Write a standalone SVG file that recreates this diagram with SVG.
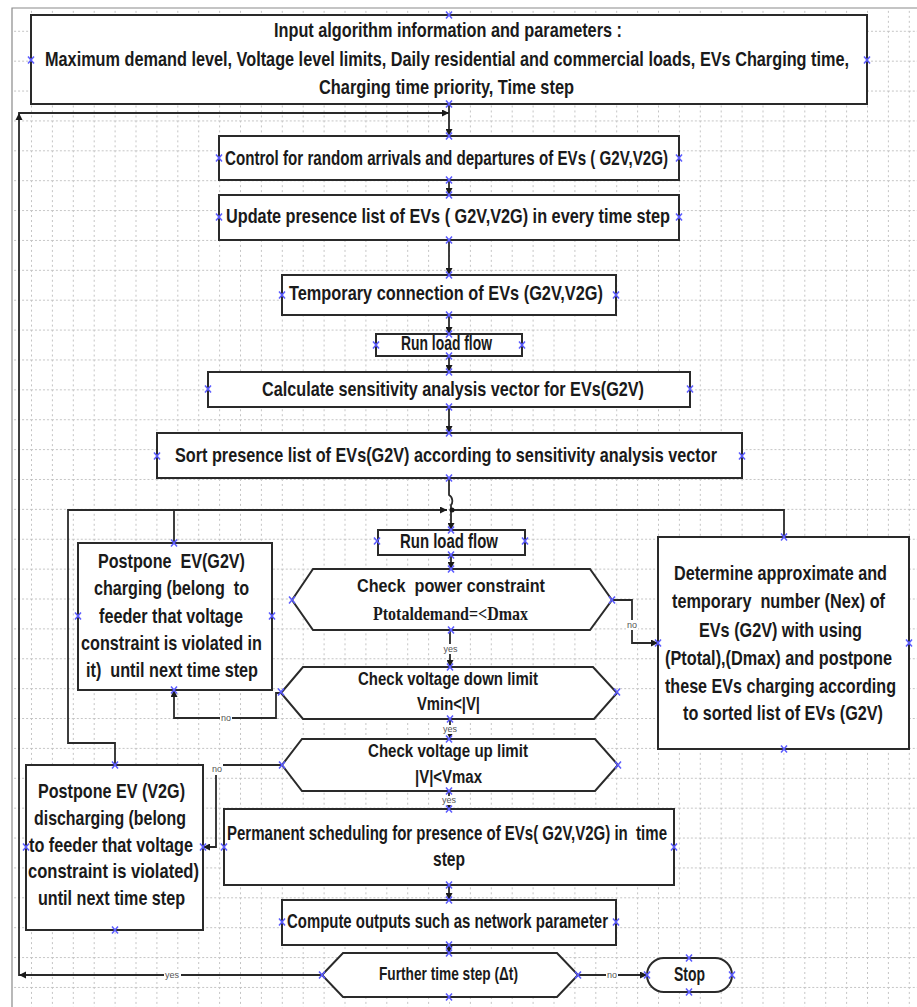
<svg xmlns="http://www.w3.org/2000/svg" width="917" height="1007" viewBox="0 0 917 1007">
<style>
.box{fill:#fff;stroke:#2a2a2a;stroke-width:2}
.t{font-family:"Liberation Sans",Arial,sans-serif;font-weight:bold;font-size:20px;fill:#1a1a1a;white-space:pre}
.h{font-size:18.5px}
.s{font-family:"Liberation Serif","Times New Roman",serif;font-weight:bold;font-size:18px;fill:#1a1a1a}
.c{fill:none;stroke:#2a2a2a;stroke-width:1.8}
.lbl{font-family:"Liberation Sans",Arial,sans-serif;font-size:9px;fill:#555}
.bg{fill:#fff}
</style>
<defs>
<pattern id="grid" patternUnits="userSpaceOnUse" x="31" y="0.9" width="20.9" height="29.88">
<line x1="0.5" y1="0" x2="0.5" y2="29.88" stroke="#c4c4c4" stroke-width="1" stroke-dasharray="2 3"/>
<line x1="0" y1="0.5" x2="20.9" y2="0.5" stroke="#c4c4c4" stroke-width="1" stroke-dasharray="2 2"/>
</pattern>
<marker id="ar" viewBox="0 0 10 10" refX="10" refY="5" markerWidth="7" markerHeight="7" markerUnits="userSpaceOnUse" orient="auto">
<path d="M0,0 L10,5 L0,10 z" fill="#1a1a1a"/>
</marker>
<path id="x" d="M-3,-3.5 L3,3.5 M3,-3.5 L-3,3.5" stroke="#5b5bff" stroke-width="1.5" fill="none"/>
</defs>

<rect x="12" y="8" width="905" height="999" fill="#fff"/>
<rect x="12" y="8" width="905" height="999" fill="url(#grid)"/>
<path d="M12,1007 V8 H917" fill="none" stroke="#8a8a8a" stroke-width="1.2"/>

<g id="connectors">
<path class="c" d="M449,104 V136" marker-end="url(#ar)"/>
<path class="c" d="M322,975 H19 V113 H449" marker-end="url(#ar)"/>
<polygon points="19,975 26,971.5 26,978.5" fill="#1a1a1a"/>
<polygon points="19,113 15.5,120 22.5,120" fill="#1a1a1a"/>
<path class="c" d="M449,180 V195" marker-end="url(#ar)"/>
<path class="c" d="M449,240 V275" marker-end="url(#ar)"/>
<path class="c" d="M449,315 V334" marker-end="url(#ar)"/>
<path class="c" d="M449,356 V372" marker-end="url(#ar)"/>
<path class="c" d="M449,407 V433" marker-end="url(#ar)"/>
<path class="c" d="M449,478 V495 C453,497 453,503 451,505 V530" marker-end="url(#ar)"/>
<path class="c" d="M115,765 V743 H68 V510 H447" marker-end="url(#ar)"/>
<path class="c" d="M174,543 V510"/>
<path class="c" d="M784,537 V510 H452"/>
<circle cx="452" cy="510" r="2.5" fill="#1a1a1a"/>
<path class="c" d="M451,555 V569" marker-end="url(#ar)"/>
<path class="c" d="M450,630 V667" marker-end="url(#ar)"/>
<path class="c" d="M612,600 H632 V643 H658" marker-end="url(#ar)"/>
<path class="c" d="M281,693 H276 V718 H174 V690" marker-end="url(#ar)"/>
<path class="c" d="M450,719 V739" marker-end="url(#ar)"/>
<path class="c" d="M282,765 H216 V847 H203" marker-end="url(#ar)"/>
<path class="c" d="M449,791 V809" marker-end="url(#ar)"/>
<path class="c" d="M449,885 V900" marker-end="url(#ar)"/>
<path class="c" d="M449,945 V953" marker-end="url(#ar)"/>
<path class="c" d="M578,975 H647" marker-end="url(#ar)"/>
<rect class="bg" x="443" y="644" width="15" height="10"/>
<text class="lbl" x="450.5" y="652" text-anchor="middle">yes</text>
<rect class="bg" x="626" y="620" width="12" height="10"/>
<text class="lbl" x="632" y="628" text-anchor="middle">no</text>
<rect class="bg" x="220" y="713" width="12" height="10"/>
<text class="lbl" x="226" y="721" text-anchor="middle">no</text>
<rect class="bg" x="442" y="725" width="15" height="9"/>
<text class="lbl" x="450" y="732" text-anchor="middle">yes</text>
<rect class="bg" x="210" y="764" width="13" height="11"/>
<text class="lbl" x="217" y="772" text-anchor="middle">no</text>
<rect class="bg" x="442" y="796" width="15" height="9"/>
<text class="lbl" x="449" y="803" text-anchor="middle">yes</text>
<rect class="bg" x="606" y="970" width="12" height="10"/>
<text class="lbl" x="612" y="978" text-anchor="middle">no</text>
<rect class="bg" x="164" y="970" width="17" height="10"/>
<text class="lbl" x="172" y="978" text-anchor="middle">yes</text>
</g>

<g id="n-input">
<rect class="box" x="31" y="15" width="836" height="89"/>
<text class="t" transform="scale(0.7 1)" x="391.43" y="37" font-size="19" textLength="497.14" lengthAdjust="spacingAndGlyphs">Input algorithm information and parameters :</text>
<text class="t" transform="scale(0.7 1)" x="64.29" y="66" textLength="1148.57" lengthAdjust="spacingAndGlyphs">Maximum demand level, Voltage level limits, Daily residential and commercial loads, EVs Charging time,</text>
<text class="t" transform="scale(0.7 1)" x="455.71" y="94" textLength="364.29" lengthAdjust="spacingAndGlyphs">Charging time priority, Time step</text>
</g>

<g id="n-control">
<rect class="box" x="219" y="136" width="460" height="44"/>
<text class="t" transform="scale(0.7 1)" x="321.43" y="165" textLength="632.86" lengthAdjust="spacingAndGlyphs">Control for random arrivals and departures of EVs ( G2V,V2G)</text>
</g>

<g id="n-update">
<rect class="box" x="219" y="195" width="460" height="45"/>
<text class="t" transform="scale(0.7 1)" x="322.86" y="223" textLength="634.29" lengthAdjust="spacingAndGlyphs">Update presence list of EVs ( G2V,V2G) in every time step</text>
</g>

<g id="n-temp">
<rect class="box" x="282" y="275" width="334" height="40"/>
<text class="t" transform="scale(0.7 1)" x="412.86" y="300" textLength="448.57" lengthAdjust="spacingAndGlyphs">Temporary connection of EVs (G2V,V2G)</text>
</g>

<g id="n-run1">
<rect class="box" x="376" y="334" width="146" height="22"/>
<text class="t" transform="scale(0.7 1)" x="572.86" y="350" textLength="130" lengthAdjust="spacingAndGlyphs">Run load flow</text>
</g>

<g id="n-calc">
<rect class="box" x="208" y="372" width="482" height="35"/>
<text class="t" transform="scale(0.7 1)" x="374.29" y="396" textLength="545.71" lengthAdjust="spacingAndGlyphs">Calculate sensitivity analysis vector for EVs(G2V)</text>
</g>

<g id="n-sort">
<rect class="box" x="157" y="433" width="585" height="45"/>
<text class="t" transform="scale(0.7 1)" x="250" y="462" textLength="774.29" lengthAdjust="spacingAndGlyphs">Sort presence list of EVs(G2V) according to sensitivity analysis vector</text>
</g>

<g id="n-run2">
<rect class="box" x="378" y="530" width="147" height="25"/>
<text class="t" transform="scale(0.7 1)" x="571.43" y="548" textLength="140" lengthAdjust="spacingAndGlyphs">Run load flow</text>
</g>

<g id="n-power">
<polygon class="box" points="292,600 313,569 590,569 612,600 590,630 313,630"/>
<text class="t h" transform="scale(0.7 1)" x="510" y="592" textLength="268.57" lengthAdjust="spacingAndGlyphs">Check  power constraint</text>
<text class="s" transform="scale(0.7 1)" x="532.86" y="620" textLength="221.43" lengthAdjust="spacingAndGlyphs">Ptotaldemand=&lt;Dmax</text>
</g>

<g id="n-vdown">
<polygon class="box" points="281,693 303,667 593,667 617,693 594,719 303,719"/>
<text class="t h" transform="scale(0.7 1)" x="511.43" y="685" textLength="257.14" lengthAdjust="spacingAndGlyphs">Check voltage down limit</text>
<text class="t h" transform="scale(0.7 1)" x="595.71" y="710" textLength="90" lengthAdjust="spacingAndGlyphs">Vmin&lt;|V|</text>
</g>

<g id="n-vup">
<polygon class="box" points="282,765 302,739 595,739 618,765 595,791 302,791"/>
<text class="t h" transform="scale(0.7 1)" x="525.71" y="757" textLength="228.57" lengthAdjust="spacingAndGlyphs">Check voltage up limit</text>
<text class="t h" transform="scale(0.7 1)" x="592.86" y="783" textLength="95.71" lengthAdjust="spacingAndGlyphs">|V|&lt;Vmax</text>
</g>

<g id="n-perm">
<rect class="box" x="224" y="809" width="450" height="76"/>
<text class="t" transform="scale(0.7 1)" x="324.29" y="840" textLength="628.57" lengthAdjust="spacingAndGlyphs">Permanent scheduling for presence of EVs( G2V,V2G) in  time</text>
<text class="t" transform="scale(0.7 1)" x="618.57" y="866" textLength="45.71" lengthAdjust="spacingAndGlyphs">step</text>
</g>

<g id="n-compute">
<rect class="box" x="282" y="900" width="334" height="45"/>
<text class="t" transform="scale(0.7 1)" x="410" y="928" textLength="458.57" lengthAdjust="spacingAndGlyphs">Compute outputs such as network parameter</text>
</g>

<g id="n-further">
<polygon class="box" points="322,975 343,953 557,953 578,975 557,997 343,997"/>
<text class="t h" transform="scale(0.7 1)" x="541.43" y="980" textLength="198.57" lengthAdjust="spacingAndGlyphs">Further time step (Δt)</text>
</g>

<g id="n-stop">
<rect class="box" x="647" y="958" width="85" height="34" rx="17"/>
<text class="t" transform="scale(0.7 1)" x="962.86" y="981" textLength="44.29" lengthAdjust="spacingAndGlyphs">Stop</text>
</g>

<g id="n-postpone-g2v">
<rect class="box" x="78" y="543" width="194" height="147"/>
<text class="t" transform="scale(0.7 1)" x="140" y="568" textLength="210" lengthAdjust="spacingAndGlyphs">Postpone  EV(G2V)</text>
<text class="t" transform="scale(0.7 1)" x="134.29" y="595" textLength="221.43" lengthAdjust="spacingAndGlyphs">charging (belong  to</text>
<text class="t" transform="scale(0.7 1)" x="141.43" y="623" textLength="205.71" lengthAdjust="spacingAndGlyphs">feeder that voltage</text>
<text class="t" transform="scale(0.7 1)" x="115.71" y="650" textLength="258.57" lengthAdjust="spacingAndGlyphs">constraint is violated in</text>
<text class="t" transform="scale(0.7 1)" x="122.86" y="677" textLength="245.71" lengthAdjust="spacingAndGlyphs">it)  until next time step</text>
</g>

<g id="n-postpone-v2g">
<rect class="box" x="26" y="765" width="177" height="165"/>
<text class="t" transform="scale(0.7 1)" x="54.29" y="798" textLength="210" lengthAdjust="spacingAndGlyphs">Postpone EV (V2G)</text>
<text class="t" transform="scale(0.7 1)" x="48.57" y="825" textLength="217.14" lengthAdjust="spacingAndGlyphs">discharging (belong</text>
<text class="t" transform="scale(0.7 1)" x="41.43" y="852" textLength="234.29" lengthAdjust="spacingAndGlyphs">to feeder that voltage</text>
<text class="t" transform="scale(0.7 1)" x="40" y="878" textLength="244.29" lengthAdjust="spacingAndGlyphs">constraint is violated)</text>
<text class="t" transform="scale(0.7 1)" x="54.29" y="905" textLength="210" lengthAdjust="spacingAndGlyphs">until next time step</text>
</g>

<g id="n-determine">
<rect class="box" x="658" y="537" width="251" height="212"/>
<text class="t" transform="scale(0.7 1)" x="962.86" y="580" textLength="304.29" lengthAdjust="spacingAndGlyphs">Determine approximate and</text>
<text class="t" transform="scale(0.7 1)" x="960" y="608" textLength="304.29" lengthAdjust="spacingAndGlyphs">temporary  number (Nex) of</text>
<text class="t" transform="scale(0.7 1)" x="998.57" y="637" textLength="232.86" lengthAdjust="spacingAndGlyphs">EVs (G2V) with using</text>
<text class="t" transform="scale(0.7 1)" x="950" y="665" textLength="324.29" lengthAdjust="spacingAndGlyphs">(Ptotal),(Dmax) and postpone</text>
<text class="t" transform="scale(0.7 1)" x="950" y="693" textLength="330" lengthAdjust="spacingAndGlyphs">these EVs charging according</text>
<text class="t" transform="scale(0.7 1)" x="975.71" y="720" textLength="285.71" lengthAdjust="spacingAndGlyphs">to sorted list of EVs (G2V)</text>
</g>

<g id="connection-points">
<use href="#x" x="449" y="15"/><use href="#x" x="31" y="60"/><use href="#x" x="867" y="60"/><use href="#x" x="449" y="104"/>
<use href="#x" x="449" y="136"/><use href="#x" x="219" y="158"/><use href="#x" x="679" y="158"/><use href="#x" x="449" y="180"/>
<use href="#x" x="449" y="195"/><use href="#x" x="219" y="217"/><use href="#x" x="679" y="217"/><use href="#x" x="449" y="240"/>
<use href="#x" x="449" y="275"/><use href="#x" x="282" y="295"/><use href="#x" x="616" y="295"/><use href="#x" x="449" y="315"/>
<use href="#x" x="449" y="334"/><use href="#x" x="376" y="345"/><use href="#x" x="522" y="345"/><use href="#x" x="449" y="356"/>
<use href="#x" x="449" y="372"/><use href="#x" x="208" y="389"/><use href="#x" x="690" y="389"/><use href="#x" x="449" y="407"/>
<use href="#x" x="449" y="433"/><use href="#x" x="157" y="456"/><use href="#x" x="742" y="456"/><use href="#x" x="449" y="478"/>
<use href="#x" x="451" y="530"/><use href="#x" x="377" y="541"/><use href="#x" x="525" y="541"/><use href="#x" x="451" y="555"/>
<use href="#x" x="451" y="569"/><use href="#x" x="292" y="600"/><use href="#x" x="612" y="600"/><use href="#x" x="451" y="630"/>
<use href="#x" x="450" y="667"/><use href="#x" x="281" y="692"/><use href="#x" x="617" y="692"/><use href="#x" x="450" y="719"/>
<use href="#x" x="449" y="739"/><use href="#x" x="282" y="765"/><use href="#x" x="618" y="765"/><use href="#x" x="449" y="791"/>
<use href="#x" x="449" y="809"/><use href="#x" x="224" y="847"/><use href="#x" x="674" y="847"/><use href="#x" x="449" y="885"/>
<use href="#x" x="449" y="900"/><use href="#x" x="282" y="922"/><use href="#x" x="616" y="922"/><use href="#x" x="449" y="945"/>
<use href="#x" x="449" y="953"/><use href="#x" x="322" y="975"/><use href="#x" x="578" y="975"/><use href="#x" x="449" y="997"/>
<use href="#x" x="689" y="958"/><use href="#x" x="647" y="975"/><use href="#x" x="732" y="975"/><use href="#x" x="689" y="992"/>
<use href="#x" x="174" y="543"/><use href="#x" x="78" y="616"/><use href="#x" x="272" y="616"/><use href="#x" x="174" y="690"/>
<use href="#x" x="115" y="765"/><use href="#x" x="26" y="847"/><use href="#x" x="203" y="847"/><use href="#x" x="115" y="930"/>
<use href="#x" x="784" y="537"/><use href="#x" x="658" y="643"/><use href="#x" x="909" y="643"/><use href="#x" x="784" y="749"/>
</g>
</svg>
